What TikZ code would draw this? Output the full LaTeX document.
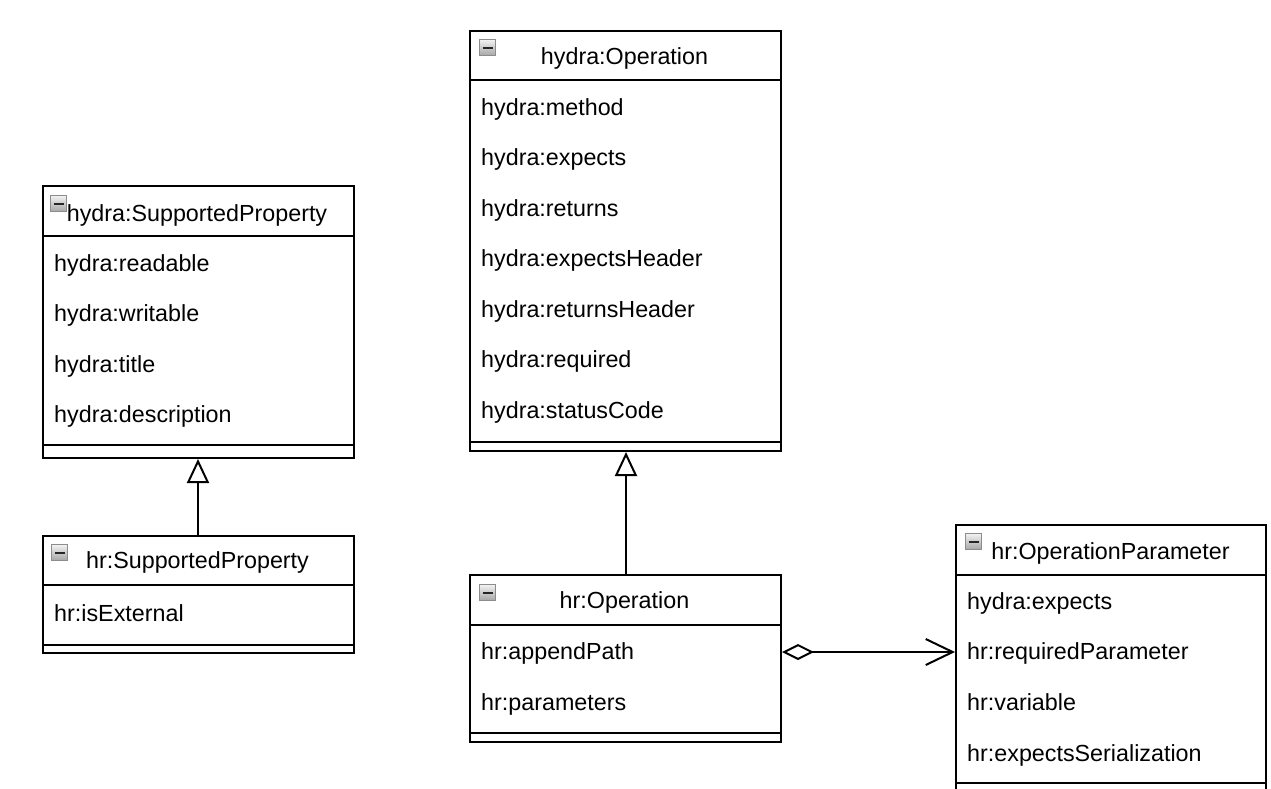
\documentclass[tikz,border=0pt]{standalone}
\usepackage{fontspec}
\setmainfont{Liberation Sans}
\usetikzlibrary{arrows.meta}
\begin{document}
\begin{tikzpicture}[x=1pt,y=-1pt,
  umlbox/.style={draw, line width=2pt, inner sep=0pt, anchor=north west, fill=white},
  rule/.style={line width=2pt},
  head/.style={anchor=base, inner sep=0pt, font=\fontsize{23.3}{27}\selectfont},
  attr/.style={anchor=west, inner sep=0pt, text height=17pt, text depth=5pt, font=\fontsize{23.3}{27}\selectfont},
  icon/.style={draw=black!45, line width=1pt, top color=black!5, bottom color=black!35,
    minimum size=16pt, inner sep=0pt, anchor=north west,
    path picture={\draw[line width=2pt, black!85]
      ([xshift=3pt]path picture bounding box.west) -- ([xshift=-3pt]path picture bounding box.east);}},
  gen/.style={line width=2pt, -{Triangle[open, length=24pt, width=22pt]}},
  agg/.style={line width=2pt, {Diamond[open, length=32pt, width=16pt]}-{Straight Barb[length=27pt, width=26pt]}}
]
\clip (0,0) rectangle (1271,788);
\useasboundingbox (0,0) rectangle (1271,788);

% hydra:SupportedProperty
\node[umlbox, minimum width=311pt, minimum height=272pt] (A) at (42,185) {};
\draw[rule] (A.west |- 0,236) -- (A.east |- 0,236);
\draw[rule] (A.west |- 0,445) -- (A.east |- 0,445);
\node[icon] (Ai) at (50,195) {};
\node[head] (At) at (197,221) {hydra:SupportedProperty};
\node[attr] (a1) at (54,265) {hydra:readable};
\node[attr] (a2) at (54,315.5) {hydra:writable};
\node[attr] (a3) at (54,366) {hydra:title};
\node[attr] (a4) at (54,416.5) {hydra:description};

% hr:SupportedProperty
\node[umlbox, minimum width=311pt, minimum height=117pt] (B) at (42,535) {};
\draw[rule] (B.west |- 0,585) -- (B.east |- 0,585);
\draw[rule] (B.west |- 0,645) -- (B.east |- 0,645);
\node[icon] (Bi) at (51,544) {};
\node[head] (Bt) at (197.5,568) {hr:SupportedProperty};
\node[attr] (b1) at (54,615) {hr:isExternal};

% hydra:Operation
\node[umlbox, minimum width=311pt, minimum height=420pt] (C) at (469,30) {};
\draw[rule] (C.west |- 0,80) -- (C.east |- 0,80);
\draw[rule] (C.west |- 0,442) -- (C.east |- 0,442);
\node[icon] (Ci) at (479,39) {};
\node[head] (Ct) at (624.5,64) {hydra:Operation};
\node[attr] (c1) at (481,109) {hydra:method};
\node[attr] (c2) at (481,159.5) {hydra:expects};
\node[attr] (c3) at (481,210) {hydra:returns};
\node[attr] (c4) at (481,260.5) {hydra:expectsHeader};
\node[attr] (c5) at (481,311) {hydra:returnsHeader};
\node[attr] (c6) at (481,361.5) {hydra:required};
\node[attr] (c7) at (481,412) {hydra:statusCode};

% hr:Operation
\node[umlbox, minimum width=311pt, minimum height=167pt] (D) at (469,574) {};
\draw[rule] (D.west |- 0,625) -- (D.east |- 0,625);
\draw[rule] (D.west |- 0,733) -- (D.east |- 0,733);
\node[icon] (Di) at (479,584) {};
\node[head] (Dt) at (624.5,608) {hr:Operation};
\node[attr] (d1) at (481,653.5) {hr:appendPath};
\node[attr] (d2) at (481,704) {hr:parameters};

% hr:OperationParameter
\node[umlbox, minimum width=310pt, minimum height=271pt] (E) at (955,524) {};
\draw[rule] (E.west |- 0,575) -- (E.east |- 0,575);
\draw[rule] (E.west |- 0,783) -- (E.east |- 0,783);
\node[icon] (Ei) at (965,533) {};
\node[head] (Et) at (1110.5,559) {hr:OperationParameter};
\node[attr] (e1) at (967,603) {hydra:expects};
\node[attr] (e2) at (967,653.5) {hr:requiredParameter};
\node[attr] (e3) at (967,704) {hr:variable};
\node[attr] (e4) at (967,755) {hr:expectsSerialization};

% relations
\coordinate (Dagg) at (D.east |- 0,652);
\coordinate (Eagg) at (E.west |- 0,652);
\draw[gen] ([xshift=-0.5pt]B.north) -- ([xshift=-0.5pt]A.south);
\draw[gen] ([xshift=0.5pt]D.north) -- ([xshift=0.5pt]C.south);
\draw[agg] (Dagg) -- (Eagg);
\end{tikzpicture}
\end{document}
